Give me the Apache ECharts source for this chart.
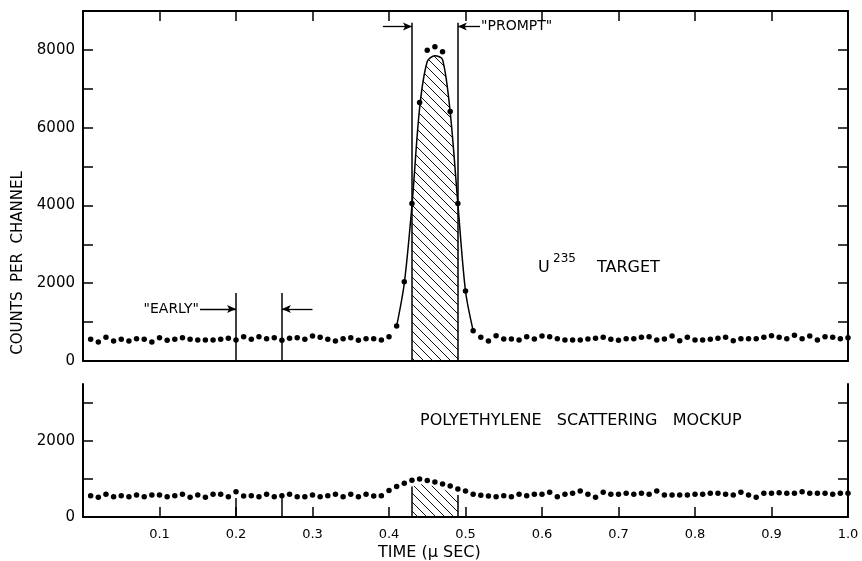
<!DOCTYPE html>
<html>
<head>
<meta charset="utf-8">
<script src="https://cdn.jsdelivr.net/npm/echarts@6/dist/echarts.min.js"></script>
<style>
html,body{margin:0;padding:0;background:#fff;}
#chart{width:862px;height:561px;}
</style>
</head>
<body>
<div id="chart"></div>
<script>
// ---- data ----
const time = [0.01,0.02,0.03,0.04,0.05,0.06,0.07,0.08,0.09,0.10,
  0.11,0.12,0.13,0.14,0.15,0.16,0.17,0.18,0.19,0.20,
  0.21,0.22,0.23,0.24,0.25,0.26,0.27,0.28,0.29,0.30,
  0.31,0.32,0.33,0.34,0.35,0.36,0.37,0.38,0.39,0.40,
  0.41,0.42,0.43,0.44,0.45,0.46,0.47,0.48,0.49,0.50,
  0.51,0.52,0.53,0.54,0.55,0.56,0.57,0.58,0.59,0.60,
  0.61,0.62,0.63,0.64,0.65,0.66,0.67,0.68,0.69,0.70,
  0.71,0.72,0.73,0.74,0.75,0.76,0.77,0.78,0.79,0.80,
  0.81,0.82,0.83,0.84,0.85,0.86,0.87,0.88,0.89,0.90,
  0.91,0.92,0.93,0.94,0.95,0.96,0.97,0.98,0.99,1.00];

const u235Counts = [557,489,609,514,557,514,574,557,489,600,
  531,557,600,557,540,540,540,557,583,540,
  626,557,626,574,600,531,583,600,557,643,
  609,557,514,574,600,531,574,574,540,626,
  900,2040,4050,6650,7990,8080,7950,6415,4050,1800,
  780,609,514,652,566,566,540,626,566,643,
  626,574,540,540,540,566,583,609,557,531,
  574,574,609,626,540,566,643,523,609,540,
  540,557,583,609,523,574,574,574,609,652,
  609,574,660,574,643,540,626,609,574,600];

const polyCounts = [561,518,596,535,561,535,579,535,579,579,
  535,561,596,518,579,518,596,596,535,667,
  553,561,535,596,535,561,596,535,535,579,
  535,561,596,535,596,535,596,553,561,700,
  800,890,970,1000,960,920,870,815,740,685,
  600,570,553,535,561,535,597,561,597,597,
  650,535,597,623,684,597,518,650,597,597,
  623,597,623,597,684,579,579,579,579,597,
  597,623,623,597,579,650,579,518,623,623,
  640,623,623,667,623,623,623,596,623,623];

const peakTime  = [0.41,0.42,0.43,0.44,0.45,0.46,0.47,0.48,0.49,0.50,0.51];
const peakCurve = [900,2000,4000,6500,7700,7850,7750,6400,4050,1800,780];

const promptTime = [0.43,0.44,0.45,0.46,0.47,0.48,0.49];
const u235Hatch  = [3900,6500,7700,7850,7750,6400,4000];
const polyHatch  = [800,860,840,800,740,660,580];

const earlyWindow  = [0.20, 0.26];
const promptWindow = [0.43, 0.49];
const earlyMarkTop = 1750, earlyArrowY = 1340, earlyArrowTails = [0.153, 0.300];
const promptMarkTop = 8700, promptArrowY = 8600, promptArrowTails = [0.392, 0.519];
const polyEarlyTop = 500;
const polyHatchEdges = [800, 580];

const xTicks = [0,0.1,0.2,0.3,0.4,0.5,0.6,0.7,0.8,0.9,1.0];
const xLabels = [0.1,0.2,0.3,0.4,0.5,0.6,0.7,0.8,0.9,1.0];
const topYTicks = [0,1000,2000,3000,4000,5000,6000,7000,8000];
const topYLabels = [0,2000,4000,6000,8000];
const botYTicks = [0,1000,2000,3000];
const botYLabels = [0,2000];

// ---- helpers ----
const FONT = 'DejaVu Sans';
const INK = '#000';
function zip(a,b){ return a.map((v,i)=>[v,b[i]]); }

function hatchPattern(){
  const s = 9;
  const c = document.createElement('canvas');
  c.width = s; c.height = s;
  const g = c.getContext('2d');
  g.strokeStyle = '#111';
  g.lineWidth = 1;
  for (const k of [-s,0,s]) {
    g.beginPath();
    g.moveTo(k-1,-1);
    g.lineTo(k+s+1,s+1);
    g.stroke();
  }
  return {image: c, repeat: 'repeat'};
}
const pattern = hatchPattern();

function axLine(){ return {show:true, onZero:false, lineStyle:{color:INK, width:2}}; }
function ticks(vals){ return {show:true, inside:true, length:10, lineStyle:{color:INK, width:1.5}, customValues:vals}; }

function vline(x, y0, y1){ return [{coord:[x,y0]},{coord:[x,y1]}]; }
function hline(x0, x1, y){ return [{coord:[x0,y]},{coord:[x1,y]}]; }

const chart = echarts.init(document.getElementById('chart'), null, {renderer:'canvas'});

const option = {
  animation: false,
  backgroundColor: '#fff',
  grid: [
    {left:83, right:14, top:11, height:350},
    {left:83, right:14, top:384, height:133}
  ],
  xAxis: [
    {gridIndex:0, type:'value', min:0, max:1, position:'bottom',
     axisLine:axLine(), axisTick:{show:false}, axisLabel:{show:false}, splitLine:{show:false}},
    {gridIndex:0, type:'value', min:0, max:1, position:'top',
     axisLine:axLine(), axisTick:ticks(xTicks), axisLabel:{show:false}, splitLine:{show:false}},
    {gridIndex:1, type:'value', min:0, max:1, position:'bottom',
     axisLine:axLine(), axisTick:ticks(xTicks),
     axisLabel:{show:true, customValues:xLabels, formatter:v=>v.toFixed(1),
       color:INK, fontFamily:FONT, fontSize:13, margin:11},
     splitLine:{show:false}}
  ],
  yAxis: [
    {gridIndex:0, type:'value', min:0, max:9000, position:'left',
     axisLine:axLine(), axisTick:ticks(topYTicks),
     axisLabel:{show:true, customValues:topYLabels, formatter:v=>String(v),
       color:INK, fontFamily:FONT, fontSize:15, margin:8},
     splitLine:{show:false}},
    {gridIndex:0, type:'value', min:0, max:9000, position:'right',
     axisLine:axLine(), axisTick:ticks(topYTicks), axisLabel:{show:false}, splitLine:{show:false}},
    {gridIndex:1, type:'value', min:0, max:3500, position:'left',
     axisLine:axLine(), axisTick:ticks(botYTicks),
     axisLabel:{show:true, customValues:botYLabels, formatter:v=>String(v),
       color:INK, fontFamily:FONT, fontSize:15, margin:8},
     splitLine:{show:false}},
    {gridIndex:1, type:'value', min:0, max:3500, position:'right',
     axisLine:axLine(), axisTick:ticks(botYTicks), axisLabel:{show:false}, splitLine:{show:false}}
  ],
  series: [
    // hatched "prompt" area, U235
    {type:'line', xAxisIndex:0, yAxisIndex:0, data:zip(promptTime,u235Hatch),
     smooth:0.3, showSymbol:false, lineStyle:{opacity:0}, areaStyle:{color:pattern, opacity:1}, z:1},
    // smooth curve through the peak
    {type:'line', xAxisIndex:0, yAxisIndex:0, data:zip(peakTime,peakCurve),
     smooth:0.3, showSymbol:false, lineStyle:{color:INK, width:1.5}, z:2,
     markLine:{silent:true, symbol:['none','arrow'], symbolSize:[6,9], label:{show:false},
       lineStyle:{color:INK, width:1.3, type:'solid', opacity:1},
       data:[
         hline(earlyArrowTails[0], earlyWindow[0], earlyArrowY),
         hline(earlyArrowTails[1], earlyWindow[1], earlyArrowY),
         hline(promptArrowTails[0], promptWindow[0], promptArrowY),
         hline(promptArrowTails[1], promptWindow[1], promptArrowY)
       ]}},
    // data points, U235
    {type:'scatter', xAxisIndex:0, yAxisIndex:0, data:zip(time,u235Counts),
     symbolSize:5.5, itemStyle:{color:INK, opacity:1}, z:3,
     markLine:{silent:true, symbol:'none', label:{show:false},
       lineStyle:{color:INK, width:1.5, type:'solid', opacity:1},
       data:[
         vline(earlyWindow[0], 0, earlyMarkTop),
         vline(earlyWindow[1], 0, earlyMarkTop),
         vline(promptWindow[0], 0, promptMarkTop),
         vline(promptWindow[1], 0, promptMarkTop)
       ]}},
    // annotation texts anchored to data coords
    {type:'scatter', xAxisIndex:0, yAxisIndex:0, symbolSize:0, itemStyle:{opacity:1},
     data:[{value:[earlyArrowTails[0], earlyArrowY], label:{position:'left', formatter:'"EARLY"'}},
           {value:[promptArrowTails[1], promptArrowY], label:{position:'right', formatter:'"PROMPT"'}}],
     label:{show:true, distance:1, color:INK, opacity:1, fontFamily:FONT, fontSize:14}, z:4},
    // hatched area, polyethylene
    {type:'line', xAxisIndex:2, yAxisIndex:2, data:zip(promptTime,polyHatch),
     smooth:0.3, showSymbol:false, lineStyle:{opacity:0}, areaStyle:{color:pattern, opacity:1}, z:1},
    // data points, polyethylene
    {type:'scatter', xAxisIndex:2, yAxisIndex:2, data:zip(time,polyCounts),
     symbolSize:5.5, itemStyle:{color:INK, opacity:1}, z:3,
     markLine:{silent:true, symbol:'none', label:{show:false},
       lineStyle:{color:INK, width:1.5, type:'solid', opacity:1},
       data:[
         vline(earlyWindow[0], 0, polyEarlyTop),
         vline(earlyWindow[1], 0, polyEarlyTop),
         vline(promptWindow[0], 0, polyHatchEdges[0]),
         vline(promptWindow[1], 0, polyHatchEdges[1])
       ]}}
  ],
  graphic: [
    {type:'text', x:18, y:263, rotation:Math.PI/2, silent:true,
     style:{text:'COUNTS  PER  CHANNEL', fill:INK, font:'15px "DejaVu Sans"', align:'center', verticalAlign:'middle'}},
    {type:'text', x:378, y:553, silent:true,
     style:{text:'TIME (\u03bc SEC)', fill:INK, font:'16px "DejaVu Sans"', align:'left', verticalAlign:'middle'}},
    {type:'text', x:538, y:268, silent:true,
     style:{text:'U', fill:INK, font:'16px "DejaVu Sans"', align:'left', verticalAlign:'middle'}},
    {type:'text', x:553, y:259, silent:true,
     style:{text:'235', fill:INK, font:'12px "DejaVu Sans"', align:'left', verticalAlign:'middle'}},
    {type:'text', x:597, y:268, silent:true,
     style:{text:'TARGET', fill:INK, font:'16px "DejaVu Sans"', align:'left', verticalAlign:'middle'}},
    {type:'text', x:420, y:421, silent:true,
     style:{text:'POLYETHYLENE   SCATTERING   MOCKUP', fill:INK, font:'16px "DejaVu Sans"', align:'left', verticalAlign:'middle'}}
  ]
};
chart.setOption(option);
</script>
</body>
</html>
